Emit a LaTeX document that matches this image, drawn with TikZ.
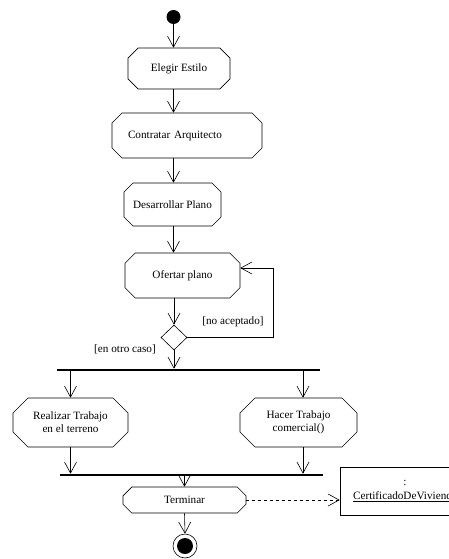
\documentclass[tikz,border=0pt]{standalone}
\usepackage{fontspec}
\setmainfont{Liberation Serif}
\usetikzlibrary{%
		arrows.meta%
		,shapes.geometric%
		,shapes.misc%
	}

\begin{document}
\begin{tikzpicture}[x=1pt, y=-1pt, semithick,
		font=\fontsize{11.2}{13}\selectfont,
		activity/.style={draw, chamfered rectangle, chamfered rectangle xsep=12pt, inner sep=2pt, align=center},
		flow/.style={-{Straight Barb[length=11pt,width=12pt]}},
		bar/.style={fill=black, inner sep=0pt, minimum height=2pt},
		guard/.style={inner sep=1pt}
	]
			\useasboundingbox (0,0) rectangle (449,559);
			\clip (0,0) rectangle (449,559);
			
			\node[circle, fill=black, minimum size=14pt, inner sep=0pt] (start) at (173.5,17) {};
			\node[activity, minimum width=102pt, minimum height=41pt] (elegir) at (179,68.5) {Elegir Estilo};
			\node[activity, minimum width=150pt, minimum height=45pt, text width=118pt, align=left] (contratar) at (187,135.5) {Contratar Arquitecto};
			\node[activity, minimum width=97pt, minimum height=43pt] (desarrollar) at (172.5,204.5) {Desarrollar Plano};
			\node[activity, minimum width=115pt, minimum height=45pt] (ofertar) at (182.5,275.5) {Ofertar plano};
			\node[draw, diamond, minimum width=26pt, minimum height=25pt, inner sep=0pt] (decision) at (174,337.5) {};
			\coordinate (loop) at (273,268);
			\node[guard] (noaceptado) at (233,322) {[no aceptado]};
			\node[guard] (otrocaso) at (125,349) {[en otro caso]};
			
			\node[bar, minimum width=263pt] (fork) at (188.5,370) {};
			\node[activity, minimum width=115pt, minimum height=49pt] (realizar) at (70.5,422.5) {Realizar Trabajo\\en el terreno};
			\node[activity, minimum width=117pt, minimum height=49pt] (hacer) at (298.5,422.5) {Hacer Trabajo\\comercial()};
			\node[bar, minimum width=263pt] (join) at (191.5,475) {};
			
			\node[activity, minimum width=123pt, minimum height=26pt] (terminar) at (184.5,500) {Terminar};
			\node[draw, minimum width=130pt, minimum height=48pt, align=center] (certificado) at (405,491) {:\\[1pt]\underline{CertificadoDeVivienda}};
			\node[circle, draw, minimum size=24pt, inner sep=0pt, path picture={\fill (path picture bounding box.center) circle (8pt);}] (final) at (185,546) {};
			
			\draw[flow] (start) -- (start |- elegir.north);
			\draw[flow] (elegir.south -| start) -- (contratar.north -| start);
			\draw[flow] (contratar.south -| start) -- (desarrollar.north -| start);
			\draw[flow] (desarrollar.south -| start) -- (ofertar.north -| start);
			\draw[flow] (ofertar.south -| decision) -- (decision.north);
			\draw[flow] (decision.east) -| (loop) -- (loop -| ofertar.east);
			\draw[flow] (decision.south) -- (decision.south |- fork.north);
			
			\draw[flow] (fork.south -| realizar) -- (realizar.north);
			\draw[flow] ([xshift=4.5pt]hacer.north |- fork.south) -- ([xshift=4.5pt]hacer.north);
			\draw[flow] (realizar.south) -- (realizar.south |- join.north);
			\draw[flow] ([xshift=4.5pt]hacer.south) -- ([xshift=4.5pt]hacer.south |- join.north);
			
			\draw[flow] (join.south -| terminar) -- (terminar.north);
			\draw[flow, dashed] (terminar.east) -- (terminar.east -| certificado.west);
			\draw[flow] (terminar.south) -- (final.north);
		\end{tikzpicture}
\end{document}
